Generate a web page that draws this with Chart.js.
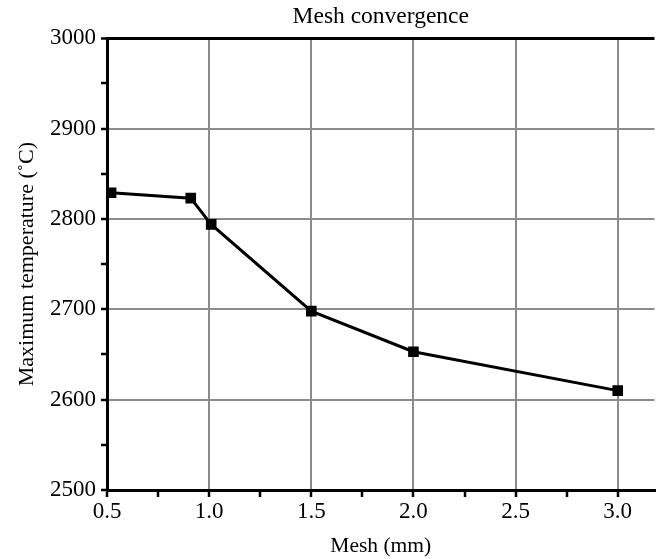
<!DOCTYPE html>
<html>
<head>
<meta charset="utf-8">
<script src="https://cdn.jsdelivr.net/npm/chart.js@4/dist/chart.umd.min.js"></script>
<style>
  body { margin: 0; background: #fff; }
  #wrap { width: 662px; height: 559px; }
</style>
</head>
<body>
<div id="wrap"><canvas id="myChart" width="662" height="559"></canvas></div>
<script>
// values
let meshSize = [0.52, 0.91, 1.01, 1.5, 2.0, 3.0];
let maxTemp = [2829, 2823, 2794, 2698, 2653, 2610];
let xTicks = [0.5, 1.0, 1.5, 2.0, 2.5, 3.0];
let yTicks = [2500, 2600, 2700, 2800, 2900, 3000];

const serif = "'Liberation Serif', 'Times New Roman', serif";
const gridGray = "#8c8c8c";

function isMajor(v, list) {
  return list.some(t => Math.abs(t - v) < 1e-6);
}

// major ticks plus a minor one half way between each pair
function withMinor(list) {
  let out = [];
  list.forEach((v, i) => {
    out.push({ value: v });
    if (i < list.length - 1) out.push({ value: (v + list[i + 1]) / 2 });
  });
  return out;
}

let points = meshSize.map((x, i) => ({ x: x, y: maxTemp[i] }));

new Chart("myChart", {
  type: "line",
  data: {
    datasets: [{
      data: points,
      borderColor: "#000",
      backgroundColor: "#000",
      borderWidth: 3,
      pointStyle: "rect",
      pointRadius: 7.5,
      pointBorderWidth: 0,
      tension: 0
    }]
  },
  options: {
    responsive: false,
    animation: false,
    layout: { padding: 0 },
    plugins: {
      legend: { display: false },
      tooltip: { enabled: false },
      title: {
        display: true,
        fullSize: false,
        text: "Mesh convergence",
        color: "#000",
        font: { family: serif, size: 23.5, weight: "normal" },
        padding: { top: 3, bottom: 7 }
      }
    },
    scales: {
      x: {
        type: "linear",
        min: 0.5,
        max: 3.18,
        afterBuildTicks: function(scale) { scale.ticks = withMinor(xTicks); },
        afterFit: function(scale) { scale.height = 69; },
        ticks: {
          autoSkip: false,
          maxRotation: 0,
          padding: 1,
          color: "#000",
          font: { family: serif, size: 23 },
          callback: v => isMajor(v, xTicks) ? v.toFixed(1) : ""
        },
        grid: {
          color: ctx => (ctx.tick && isMajor(ctx.tick.value, xTicks)) ? gridGray : "rgba(0,0,0,0)",
          lineWidth: 2,
          tickColor: "#000",
          tickLength: 7,
          tickWidth: 2.5
        },
        border: { display: true, color: "#000", width: 3 },
        title: {
          display: true,
          text: "Mesh (mm)",
          color: "#000",
          font: { family: serif, size: 21.5 },
          padding: { top: 0, bottom: 0 }
        }
      },
      y: {
        type: "linear",
        min: 2500,
        max: 3000,
        afterBuildTicks: function(scale) { scale.ticks = withMinor(yTicks); },
        afterFit: function(scale) { scale.width = 107; },
        ticks: {
          autoSkip: false,
          padding: 5,
          color: "#000",
          font: { family: serif, size: 23 },
          callback: v => isMajor(v, yTicks) ? String(v) : ""
        },
        grid: {
          color: function(ctx) {
            if (!ctx.tick) return gridGray;
            if (ctx.tick.value === 3000) return "#000";
            return isMajor(ctx.tick.value, yTicks) ? gridGray : "rgba(0,0,0,0)";
          },
          lineWidth: ctx => (ctx.tick && ctx.tick.value === 3000) ? 3 : 2,
          tickColor: "#000",
          tickLength: 6,
          tickWidth: 2.5
        },
        border: { display: true, color: "#000", width: 3 },
        title: {
          display: true,
          text: "Maximum temperature (˚C)",
          color: "#000",
          font: { family: serif, size: 22 },
          padding: { top: 14, bottom: 0 }
        }
      }
    }
  }
});
</script>
</body>
</html>
